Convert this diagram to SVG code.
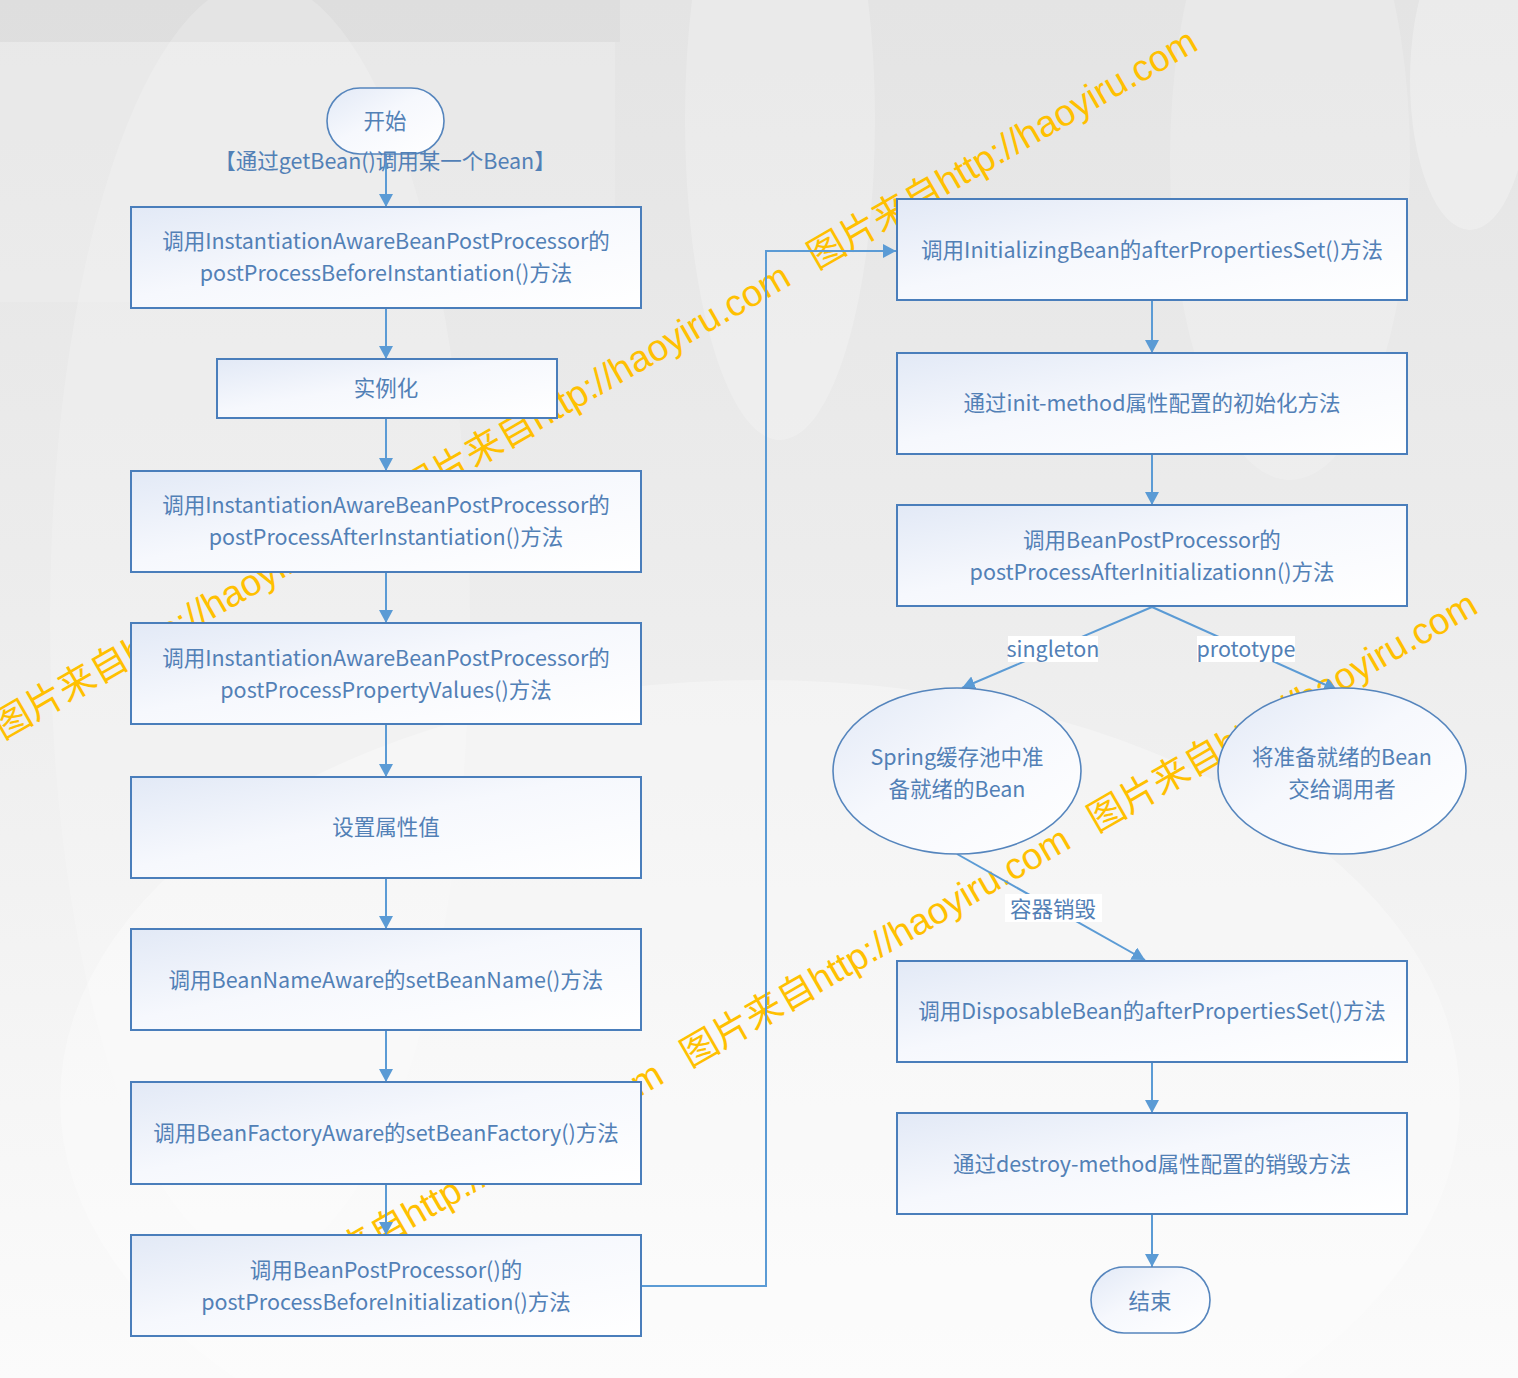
<svg xmlns="http://www.w3.org/2000/svg" width="1518" height="1378" viewBox="0 0 1518 1378">
<defs>
<style>
.box{fill:url(#boxfill);stroke:#4a7ebb;stroke-width:2}
.ell{fill:url(#boxfill);stroke:#5585bd;stroke-width:1.6}
.pill{fill:url(#boxfill);stroke:#5585bd;stroke-width:1.6}
.t{font-family:"Noto Sans CJK SC","Noto Sans",sans-serif;font-size:21.5px;fill:#5280b6;text-anchor:middle;dominant-baseline:central}
.c{fill:none;stroke:#5b9bd5;stroke-width:2;marker-end:url(#ah)}
.lbg{fill:#ffffff}
.wm{font-family:"Liberation Sans","Noto Sans CJK SC",sans-serif;font-size:37px;fill:#ffc000}
</style>
<linearGradient id="boxfill" x1="0" y1="0" x2="1" y2="1">
<stop offset="0" stop-color="#e2e9f6"/>
<stop offset="0.45" stop-color="#f6f8fd"/>
<stop offset="1" stop-color="#ffffff"/>
</linearGradient>
<linearGradient id="bg" x1="0" y1="0" x2="0" y2="1">
<stop offset="0" stop-color="#e4e4e4"/>
<stop offset="0.45" stop-color="#ededed"/>
<stop offset="1" stop-color="#fbfbfb"/>
</linearGradient>
<marker id="ah" viewBox="0 0 13 14" refX="13" refY="7" markerWidth="13" markerHeight="14" markerUnits="userSpaceOnUse" orient="auto">
<path d="M0,0 L13,7 L0,14 Z" fill="#5b9bd5"/>
</marker>
</defs>

<g id="background">
<rect x="0" y="0" width="1518" height="1378" fill="url(#bg)"/>
<rect x="0" y="0" width="620" height="42" fill="#d8d8d8" opacity="0.45"/>
<rect x="0" y="42" width="615" height="260" fill="#f2f2f2" opacity="0.3"/>
<ellipse cx="260" cy="620" rx="210" ry="640" fill="#ffffff" opacity="0.18"/>
<ellipse cx="780" cy="120" rx="95" ry="320" fill="#ffffff" opacity="0.22"/>
<ellipse cx="1290" cy="160" rx="120" ry="320" fill="#ffffff" opacity="0.18"/>
<ellipse cx="1470" cy="80" rx="60" ry="150" fill="#ffffff" opacity="0.28"/>
<ellipse cx="760" cy="1100" rx="700" ry="420" fill="#ffffff" opacity="0.3"/>
</g>

<g id="watermark">
<text class="wm" transform="translate(3,740) rotate(-30)">图片来自http://haoyiru.com</text>
<text class="wm" transform="translate(410,505) rotate(-30)">图片来自http://haoyiru.com</text>
<text class="wm" transform="translate(817,270) rotate(-30)">图片来自http://haoyiru.com</text>
<text class="wm" transform="translate(283,1303) rotate(-30)">图片来自http://haoyiru.com</text>
<text class="wm" transform="translate(690,1068) rotate(-30)">图片来自http://haoyiru.com</text>
<text class="wm" transform="translate(1097,833) rotate(-30)">图片来自http://haoyiru.com</text>
</g>

<g id="connectors">
<line class="c" x1="386" y1="154" x2="386" y2="207"/>
<line class="c" x1="386" y1="308" x2="386" y2="359"/>
<line class="c" x1="386" y1="418" x2="386" y2="471"/>
<line class="c" x1="386" y1="572" x2="386" y2="623"/>
<line class="c" x1="386" y1="724" x2="386" y2="777"/>
<line class="c" x1="386" y1="878" x2="386" y2="929"/>
<line class="c" x1="386" y1="1030" x2="386" y2="1082"/>
<line class="c" x1="386" y1="1184" x2="386" y2="1235"/>
<path class="c" d="M641,1286 H766 V251 H896"/>
<line class="c" x1="1152" y1="300" x2="1152" y2="353"/>
<line class="c" x1="1152" y1="454" x2="1152" y2="505"/>
<line class="c" x1="1152" y1="607" x2="962" y2="688"/>
<line class="c" x1="1152" y1="607" x2="1337" y2="690"/>
<line class="c" x1="957" y1="854" x2="1145" y2="960"/>
<line class="c" x1="1152" y1="1062" x2="1152" y2="1113"/>
<line class="c" x1="1152" y1="1214" x2="1152" y2="1267"/>
<rect class="lbg" x="1008" y="636" width="90" height="26"/>
<text class="t" x="1053" y="647">singleton</text>
<rect class="lbg" x="1197" y="636" width="98" height="26"/>
<text class="t" x="1246" y="647">prototype</text>
<rect class="lbg" x="1005" y="894" width="97" height="28"/>
<text class="t" x="1053" y="907">容器销毁</text>
</g>

<g id="start">
<rect class="pill" x="327" y="88" width="117" height="66" rx="33" ry="33"/>
<text class="t" x="385" y="119">开始</text>
<text class="t" x="385" y="159">【通过getBean()调用某一个Bean】</text>
</g>

<g id="n1">
<rect class="box" x="131" y="207" width="510" height="101"/>
<text class="t" x="386" y="239">调用InstantiationAwareBeanPostProcessor的</text>
<text class="t" x="386" y="271">postProcessBeforeInstantiation()方法</text>
</g>
<g id="n2">
<rect class="box" x="217" y="359" width="340" height="59"/>
<text class="t" x="386" y="386">实例化</text>
</g>
<g id="n3">
<rect class="box" x="131" y="471" width="510" height="101"/>
<text class="t" x="386" y="503">调用InstantiationAwareBeanPostProcessor的</text>
<text class="t" x="386" y="535">postProcessAfterInstantiation()方法</text>
</g>
<g id="n4">
<rect class="box" x="131" y="623" width="510" height="101"/>
<text class="t" x="386" y="656">调用InstantiationAwareBeanPostProcessor的</text>
<text class="t" x="386" y="688">postProcessPropertyValues()方法</text>
</g>
<g id="n5">
<rect class="box" x="131" y="777" width="510" height="101"/>
<text class="t" x="386" y="825">设置属性值</text>
</g>
<g id="n6">
<rect class="box" x="131" y="929" width="510" height="101"/>
<text class="t" x="386" y="978">调用BeanNameAware的setBeanName()方法</text>
</g>
<g id="n7">
<rect class="box" x="131" y="1082" width="510" height="102"/>
<text class="t" x="386" y="1131">调用BeanFactoryAware的setBeanFactory()方法</text>
</g>
<g id="n8">
<rect class="box" x="131" y="1235" width="510" height="101"/>
<text class="t" x="386" y="1268">调用BeanPostProcessor()的</text>
<text class="t" x="386" y="1300">postProcessBeforeInitialization()方法</text>
</g>

<g id="r1">
<rect class="box" x="897" y="199" width="510" height="101"/>
<text class="t" x="1152" y="248">调用InitializingBean的afterPropertiesSet()方法</text>
</g>
<g id="r2">
<rect class="box" x="897" y="353" width="510" height="101"/>
<text class="t" x="1152" y="401">通过init-method属性配置的初始化方法</text>
</g>
<g id="r3">
<rect class="box" x="897" y="505" width="510" height="101"/>
<text class="t" x="1152" y="538">调用BeanPostProcessor的</text>
<text class="t" x="1152" y="570">postProcessAfterInitializationn()方法</text>
</g>
<g id="singletonNode">
<ellipse class="ell" cx="957" cy="771" rx="124" ry="83"/>
<text class="t" x="957" y="755">Spring缓存池中准</text>
<text class="t" x="957" y="787">备就绪的Bean</text>
</g>
<g id="prototypeNode">
<ellipse class="ell" cx="1342" cy="771" rx="124" ry="83"/>
<text class="t" x="1342" y="755">将准备就绪的Bean</text>
<text class="t" x="1342" y="787">交给调用者</text>
</g>
<g id="r4">
<rect class="box" x="897" y="961" width="510" height="101"/>
<text class="t" x="1152" y="1009">调用DisposableBean的afterPropertiesSet()方法</text>
</g>
<g id="r5">
<rect class="box" x="897" y="1113" width="510" height="101"/>
<text class="t" x="1152" y="1162">通过destroy-method属性配置的销毁方法</text>
</g>
<g id="end">
<rect class="pill" x="1091" y="1267" width="119" height="66" rx="33" ry="33"/>
<text class="t" x="1150" y="1299">结束</text>
</g>
</svg>
